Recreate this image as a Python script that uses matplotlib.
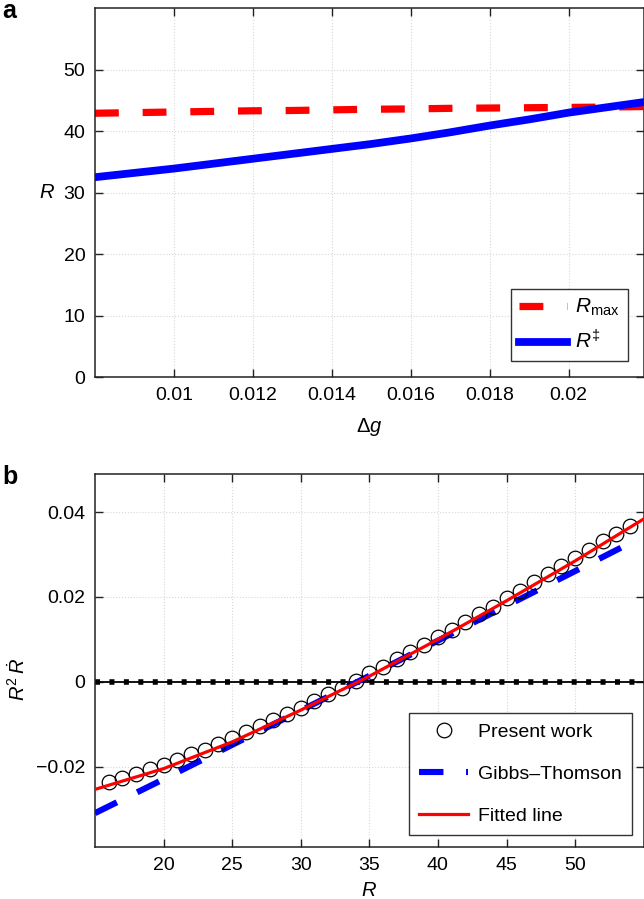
import numpy as np
import matplotlib
matplotlib.use('Agg')
import matplotlib.pyplot as plt

plt.rcParams['font.family'] = ['Liberation Sans', 'DejaVu Sans']
plt.rcParams['mathtext.fontset'] = 'custom'
plt.rcParams['mathtext.rm'] = 'Liberation Sans'
plt.rcParams['mathtext.it'] = 'Liberation Sans:italic'
plt.rcParams['axes.unicode_minus'] = False

# 01 - Data, panel a
dg = [0.008, 0.009, 0.010, 0.011, 0.012, 0.013, 0.014, 0.015,
      0.016, 0.017, 0.018, 0.019, 0.020, 0.021, 0.022]
R_max = [42.9, 43.0, 43.1, 43.2, 43.3, 43.35, 43.45, 43.55,
         43.6, 43.7, 43.75, 43.8, 43.85, 43.9, 44.0]
R_dag = [32.5, 33.2, 33.9, 34.7, 35.5, 36.3, 37.1, 37.9,
         38.8, 39.8, 40.9, 41.9, 43.0, 43.9, 44.8]

# 02 - Data, panel b
R_pw = list(range(16, 55))
y_pw = [-0.0237, -0.0226, -0.0217, -0.0207, -0.0196, -0.0184, -0.0171, -0.0160,
        -0.0146, -0.0132, -0.0118, -0.0104, -0.0091, -0.0076, -0.0061, -0.0046,
        -0.0030, -0.0014, 0.0002, 0.0020, 0.0035, 0.0053, 0.0069, 0.0087,
        0.0105, 0.0122, 0.0140, 0.0160, 0.0177, 0.0197, 0.0215, 0.0235,
        0.0254, 0.0274, 0.0293, 0.0311, 0.0331, 0.0349, 0.0368]
R_gt = [15, 20, 25, 30, 35, 40, 45, 50, 54]
y_gt = [-0.0310, -0.0230, -0.0149, -0.0068, 0.0014, 0.0097, 0.0179, 0.0261, 0.0327]
R_fit = [15, 20, 25, 30, 35, 40, 45, 50, 55]
y_fit = [-0.0254, -0.0205, -0.0142, -0.0067, 0.0013, 0.0100, 0.0191, 0.0285, 0.0384]

fig = plt.figure(figsize=(6.44, 8.99), dpi=100)
ax1 = fig.add_axes([0.1475, 0.5806, 0.852, 0.4104])
ax2 = fig.add_axes([0.1475, 0.0578, 0.852, 0.4149])

def style(ax):
    ax.grid(True, color='#d8d8d8', linestyle=':', linewidth=0.8)
    ax.set_axisbelow(True)
    ax.tick_params(direction='in', top=True, right=True, length=5.5, width=1,
                   labelsize=14, pad=7, colors='#222222', labelcolor='black')
    for s in ax.spines.values():
        s.set_linewidth(1.1)
        s.set_color('#222222')

# 03 - Panel a
ax1.plot(dg, R_max, color='#ff0000', lw=5.2, linestyle=(0, (3.3, 3.3)),
         dash_capstyle='butt', label=r'$R_{\mathrm{max}}$')
ax1.plot(dg, R_dag, color='#0000ff', lw=5.6, label=r'$R^{\ddag}$')
ax1.set_xlim(0.008, 0.0219)
ax1.set_ylim(0, 60)
ax1.set_xticks([0.01, 0.012, 0.014, 0.016, 0.018, 0.02])
ax1.set_xticklabels(['0.01', '0.012', '0.014', '0.016', '0.018', '0.02'])
ax1.set_yticks([0, 10, 20, 30, 40, 50])
style(ax1)
ax1.set_xlabel(r'$\Delta g$', fontsize=14.5)
ax1.xaxis.set_label_coords(0.5, -0.105)
ax1.set_ylabel(r'$R$', fontsize=14.5, rotation=0, va='center')
ax1.yaxis.set_label_coords(-0.088, 0.5)
leg1 = ax1.legend(loc='lower right', bbox_to_anchor=(0.972, 0.043), fontsize=15,
                  handlelength=2.3, frameon=True, fancybox=False, framealpha=1,
                  borderpad=0.4, labelspacing=0.55, handletextpad=0.4,
                  borderaxespad=0)
leg1.get_frame().set_edgecolor('#333333')
leg1.get_frame().set_linewidth(1.0)
fig.text(0.003, 0.988, 'a', fontsize=18, fontweight='bold', va='center', ha='left')

# 04 - Panel b
ax2.plot(R_gt, y_gt, color='#0000ff', lw=4.4, linestyle=(0, (4.0, 3.7)),
         dash_capstyle='butt', label='Gibbs\u2013Thomson', zorder=2)
ax2.plot(R_pw, y_pw, 'o', mfc='none', mec='black', mew=0.9, ms=10.5,
         label='Present work', zorder=3)
ax2.plot(R_fit, y_fit, color='#ff0000', lw=2.3, label='Fitted line', zorder=4)
ax2.axhline(0, color='black', lw=1.3, zorder=1.5)
ax2.axhline(0, color='black', lw=4, linestyle=(0, (0.9, 1.7)),
            dash_capstyle='butt', zorder=1.6)
ax2.set_xlim(15, 55)
ax2.set_ylim(-0.039, 0.049)
ax2.set_xticks([20, 25, 30, 35, 40, 45, 50])
ax2.set_yticks([-0.02, 0, 0.02, 0.04])
ax2.set_yticklabels(['\u22120.02', '0', '0.02', '0.04'])
style(ax2)
ax2.set_xlabel(r'$R$', fontsize=14.5)
ax2.xaxis.set_label_coords(0.5, -0.09)
ax2.set_ylabel(r'$R^2\,\dot{R}$', fontsize=14.5)
ax2.yaxis.set_label_coords(-0.12, 0.45)
h, l = ax2.get_legend_handles_labels()
order = [1, 0, 2]
leg2 = ax2.legend([h[i] for i in order], [l[i] for i in order], loc='lower right',
                  bbox_to_anchor=(0.979, 0.031), fontsize=14,
                  handlelength=2.5, frameon=True, fancybox=False, framealpha=1,
                  borderpad=0.55, labelspacing=1.25, handletextpad=0.5,
                  borderaxespad=0)
leg2.get_frame().set_edgecolor('#333333')
leg2.get_frame().set_linewidth(1.0)
fig.text(0.003, 0.4695, 'b', fontsize=18, fontweight='bold', va='center', ha='left')

fig.savefig('out.png', dpi=100)
